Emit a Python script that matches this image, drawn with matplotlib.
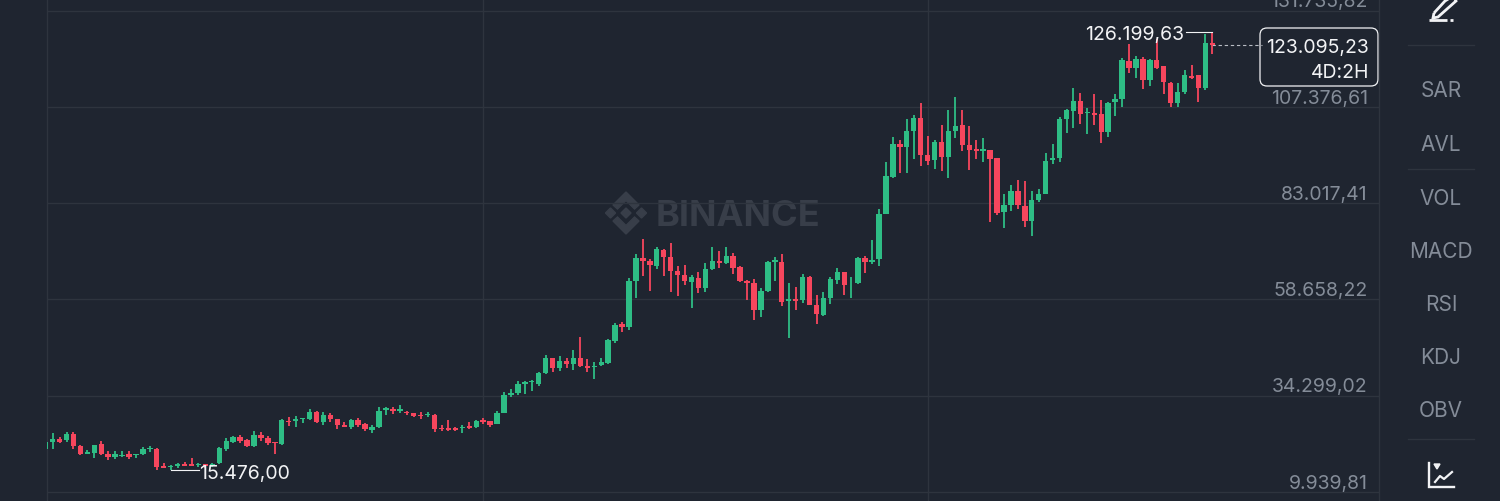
import matplotlib
matplotlib.use('Agg')
import matplotlib.pyplot as plt
from matplotlib.patches import FancyBboxPatch, Polygon

# candles, prices in thousands
opens = [20.8,22.6,23.4,23.1,24.5,21.6,19.6,19.9,22.0,19.6,18.9,19.1,19.6,19.2,19.6,20.7,20.9,16.4,16.3,16.5,
         17.0,16.9,16.8,16.9,16.6,17.2,20.75,22.6,23.9,23.0,21.6,24.4,23.7,22.5,22.0,28.0,28.0,28.3,28.3,30.3,
         27.7,29.4,28.4,27.0,26.5,28.2,27.2,25.6,26.3,30.7,30.9,30.5,30.3,30.0,29.4,29.3,29.4,26.2,26.1,26.1,
         26.1,26.6,26.3,28.2,27.8,27.2,30.0,34.6,34.9,37.3,37.8,37.3,40.0,43.8,41.2,43.2,42.3,43.9,41.9,41.5,
         42.1,42.7,48.2,52.4,51.8,63.3,69.1,68.5,67.1,71.2,69.5,65.8,64.9,63.1,64.0,61.5,66.3,68.5,67.8,69.7,
         66.8,63.3,62.7,56.0,60.8,68.1,68.2,58.3,58.8,58.5,64.4,57.3,54.8,59.0,63.6,65.6,63.2,62.7,69.1,68.1,
         68.8,80.3,89.7,98.0,97.3,101.3,104.5,95.2,93.9,98.4,94.6,101.4,102.7,97.7,96.6,96.3,96.5,94.4,80.9,82.6,
         86.1,82.4,78.5,83.7,85.3,93.9,94.4,104.2,106.4,108.9,105.8,105.8,105.6,100.9,108.6,109.3,119.1,117.2,119.6,114.2,
         119.2,117.6,113.5,108.3,111.2,115.1,115.4,112.2,123.6]
closes = [22.7,23.3,22.7,24.5,21.6,19.6,20.0,21.8,19.5,18.7,19.6,19.4,18.9,19.5,20.8,21.0,16.2,16.0,16.6,17.1,
          16.5,16.5,17.0,16.5,17.0,21.0,22.9,23.8,22.9,21.7,24.4,23.5,22.3,22.3,28.2,27.6,28.4,28.6,30.3,27.6,
          29.4,28.4,26.9,26.5,28.2,27.0,25.8,26.3,30.5,31.1,30.4,30.9,29.8,29.1,29.1,29.7,26.0,25.8,25.7,25.7,
          26.5,26.2,28.0,27.7,27.0,30.0,34.6,35.1,37.3,37.7,38.0,40.1,43.9,41.4,43.1,42.3,43.9,41.8,41.2,41.9,
          42.8,48.4,52.3,51.8,63.2,69.1,68.5,67.3,71.4,69.5,65.8,64.9,63.2,64.3,61.5,66.3,68.5,67.8,69.6,66.7,
          63.3,62.8,56.0,60.9,68.2,68.6,58.1,58.8,58.3,64.4,57.3,55.0,59.1,63.8,65.7,62.3,63.4,69.2,68.1,68.6,
          80.4,89.9,98.0,97.3,101.3,104.5,95.2,93.8,98.6,94.6,101.4,102.6,97.7,96.5,96.1,96.6,94.3,80.5,82.6,86.1,
          82.5,78.5,83.8,85.3,93.8,94.4,104.2,106.6,108.9,105.6,106.2,105.3,100.9,108.4,109.3,119.2,117.2,119.6,114.2,119.2,
          117.2,113.7,108.3,111.2,115.4,114.6,112.2,123.5,123.1]
highs = [22.7,24.8,23.8,25.2,25.2,21.9,20.6,21.8,22.8,20.2,20.4,20.4,20.2,19.6,21.2,21.6,21.1,17.2,16.7,17.4,
         17.5,18.5,17.2,17.1,17.2,21.25,23.5,24.0,24.3,23.4,25.3,25.1,24.1,22.6,28.3,29.0,29.2,28.75,31.0,30.5,
         30.2,29.85,28.5,27.6,28.3,28.6,27.3,27.0,31.5,31.4,31.5,31.9,30.5,30.0,30.2,30.2,29.7,26.8,28.2,26.5,
         26.8,27.6,28.2,28.7,28.0,30.5,35.3,36.1,38.0,38.0,38.3,40.4,44.7,43.9,44.4,43.8,45.9,49.1,43.6,42.8,
         43.9,48.6,52.8,53.0,64.0,70.1,73.9,69.0,71.8,71.5,72.9,67.0,67.4,64.9,65.5,67.8,72.0,70.8,72.0,70.3,
         67.0,63.6,63.8,61.5,68.4,69.3,70.2,62.9,61.9,65.0,64.6,59.8,60.6,64.3,66.7,65.6,64.4,69.5,69.7,73.7,
         81.6,93.4,99.7,99.0,104.2,105.3,108.4,100.0,99.0,102.8,106.6,109.8,106.6,102.5,99.0,99.6,96.5,94.4,85.3,87.5,
         88.9,88.5,86.1,86.6,95.8,97.9,104.9,106.8,112.1,110.8,107.0,110.6,109.1,108.7,110.6,119.7,123.3,120.3,120.1,119.4,
         124.5,117.7,113.7,113.3,116.7,118.0,115.4,125.7,126.2]
lows = [20.8,20.7,22.4,22.5,20.8,19.4,19.6,18.6,19.3,18.0,18.4,18.9,18.2,18.6,19.2,20.1,15.5,15.9,15.5,16.0,
        16.4,16.4,16.2,16.1,16.3,17.0,20.4,22.3,22.4,21.4,21.4,22.8,21.9,19.6,21.8,26.6,26.5,27.3,28.2,27.3,
        27.0,27.7,25.9,26.3,25.8,26.5,25.4,24.8,26.2,29.5,29.7,29.9,29.5,28.8,28.5,28.8,25.1,25.3,25.3,25.3,
        24.9,25.9,26.1,27.1,26.5,27.1,29.9,33.9,34.4,34.7,35.6,36.8,39.8,40.2,40.5,41.3,40.8,41.5,40.2,38.5,
        41.8,42.3,47.7,50.5,50.9,58.9,64.7,60.7,66.4,64.6,60.6,59.6,62.3,56.5,60.2,60.6,66.1,66.7,67.6,65.1,
        63.1,58.4,53.5,54.1,60.6,63.4,57.0,49.0,56.0,57.8,57.2,52.5,54.5,57.5,62.6,59.8,58.9,62.5,65.3,67.6,
        67.0,80.3,89.4,90.7,90.6,94.2,92.3,92.6,91.6,91.2,89.3,99.6,96.2,91.3,94.1,93.4,78.3,80.0,76.7,81.1,
        81.5,77.1,74.6,83.2,85.3,92.9,93.4,100.7,102.1,103.1,100.4,102.8,98.3,99.7,105.1,107.4,115.9,114.7,112.0,112.7,
        116.9,110.7,107.3,107.3,110.7,114.4,108.6,111.7,120.7]

price_ticks = [9939.81, 34299.02, 58658.22, 83017.41, 107376.61, 131735.82]
tick_labels = ['9.939,81', '34.299,02', '58.658,22', '83.017,41', '107.376,61', '131.735,82']
time_lines = [63, 127]
side_labels = ['SAR', 'AVL', 'VOL', 'MACD', 'RSI', 'KDJ', 'OBV']
side_y = [89, 143, 197, 250, 303, 356, 409]
last_price = 123095.23
max_price = 126199.63
min_price = 15476.00

bg = '#1f2530'
grid_c = '#2e343e'
green = '#2ebd85'
red = '#f6465d'
gray = '#848c98'
white = '#f2f3f5'
mark_c = '#383e49'

plt.rcParams['font.family'] = ['Inter', 'DejaVu Sans']

fig = plt.figure(figsize=(15, 5.01), dpi=100, facecolor=bg)

# pixel layer for the panel, watermark and box
back = fig.add_axes([0, 0, 1, 1], zorder=0)
back.set_xlim(0, 1500)
back.set_ylim(501, 0)
back.axis('off')

back.text(737.5, 217, 'BINANCE', color=mark_c, fontsize=26, fontweight='bold', ha='center', va='center')
back.add_patch(Polygon([(626, 208), (631, 213), (626, 218), (621, 213)], color=mark_c))
back.add_patch(Polygon([(610.5, 208), (615.5, 213), (610.5, 218), (605.5, 213)], color=mark_c))
back.add_patch(Polygon([(641.5, 208), (646.5, 213), (641.5, 218), (636.5, 213)], color=mark_c))
back.add_patch(Polygon([(626, 192), (639, 205), (634.5, 209), (626, 200.5), (617.5, 209), (613, 205)], color=mark_c))
back.add_patch(Polygon([(626, 234), (639, 221), (634.5, 217), (626, 225.5), (617.5, 217), (613, 221)], color=mark_c))

# price box and side buttons
back.add_patch(FancyBboxPatch((1263, 31), 112, 52, boxstyle='round,pad=3,rounding_size=7',
                              fc=bg, ec=white, lw=0.9))
back.text(1369, 48, '123.095,23', color=white, fontsize=14, ha='right', va='center')
back.text(1369, 73, '4D:2H', color=white, fontsize=14, ha='right', va='center')
for lab, y in zip(side_labels, side_y):
    back.text(1441, y + 2, lab, color=gray, fontsize=15, ha='center', va='center')
for y in [45, 169, 439]:
    back.plot([1408, 1474], [y, y], color=grid_c, lw=1)

# pencil
back.add_patch(Polygon([(1434, 13), (1445, 1), (1453, -4), (1456, 1), (1438, 17), (1433, 18)],
                       fc='none', ec=white, lw=2))
back.plot([1429, 1447], [20, 20], color=white, lw=2, solid_capstyle='butt')
back.plot([1450, 1453], [20, 20], color=white, lw=2, solid_capstyle='butt')
# indicator icon
back.plot([1429, 1429, 1454], [463, 487, 487], color=white, lw=1.7, solid_joinstyle='miter')
back.plot([1435, 1440, 1444, 1452], [482, 476, 479, 472], color=white, lw=1.6)
back.add_patch(Polygon([(1434, 464), (1440, 464), (1437, 469)], color=white))

# candle axes, x runs over candle number
ax = fig.add_axes([47 / 1500, 0, 1332 / 1500, 1], zorder=1)
ax.patch.set_alpha(0)
ax.set_xlim(0.19, 192)
ax.set_ylim(7660, 134420)
ax.set_yticks(price_ticks)
ax.set_xticks(time_lines)
ax.tick_params(length=0, labelleft=False, labelbottom=False)
ax.grid(True, color=grid_c, lw=1)
ax.set_axisbelow(True)
for side in ['top', 'bottom']:
    ax.spines[side].set_visible(False)
for side in ['left', 'right']:
    ax.spines[side].set_color(grid_c)
    ax.spines[side].set_linewidth(1)

for i in range(len(opens)):
    o, c, h, l = opens[i] * 1000, closes[i] * 1000, highs[i] * 1000, lows[i] * 1000
    col = green if c >= o else red
    ax.vlines(i, l, h, color=col, lw=1.3, zorder=3)
    ax.bar(i, abs(c - o), bottom=min(o, c), width=0.78, color=col, zorder=3)

for val, lab in zip(price_ticks, tick_labels):
    ax.annotate(lab, xy=(1, val), xycoords=('axes fraction', 'data'), xytext=(-8, 6),
                textcoords='offset points', color=gray, fontsize=14, ha='right', va='center')

# max, min and last price marks
imax = highs.index(max(highs))
imin = 18
ax.plot([imax, imax - 3.8], [max_price, max_price], color=white, lw=0.8, zorder=4)
ax.annotate('126.199,63', xy=(imax - 3.8, max_price), xytext=(-1, -1.5), textcoords='offset points',
            color=white, fontsize=14, ha='right', va='center', zorder=5)
ax.plot([imin, imin + 4.1], [min_price, min_price], color=white, lw=0.8, zorder=4)
ax.annotate('15.476,00', xy=(imin + 4.1, min_price), xytext=(0, -2.5), textcoords='offset points',
            color=white, fontsize=14, ha='left', va='center', zorder=5)
ax.plot([168, 175.2], [last_price, last_price], color='#b9bdc4', lw=0.8, ls=(0, (3, 2.5)), zorder=2)

fig.savefig('out.png', dpi=100, facecolor=bg)
